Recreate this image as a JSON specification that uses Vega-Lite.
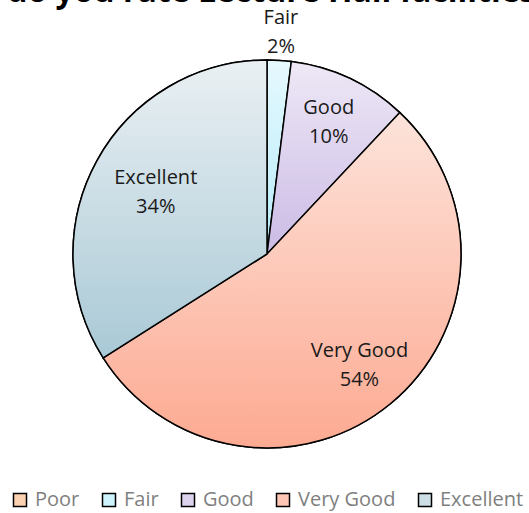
{
  "$schema": "https://vega.github.io/schema/vega-lite/v6.json",
  "width": 534,
  "height": 488,
  "autosize": "none",
  "padding": {"left": 0, "top": 10, "right": 0, "bottom": 15},
  "background": "white",
  "title": {
    "text": "How do you rate Lecture Hall facilities?",
    "font": "Open Sans",
    "fontSize": 32,
    "fontWeight": "bold",
    "color": "black",
    "anchor": "middle",
    "frame": "group",
    "offset": -26,
    "dx": -28,
    "baseline": "alphabetic"
  },
  "data": {
    "values": [
      {"rating": "Poor", "pct": 0, "rank": 1},
      {"rating": "Fair", "pct": 2, "rank": 2},
      {"rating": "Good", "pct": 10, "rank": 3},
      {"rating": "Very Good", "pct": 54, "rank": 4},
      {"rating": "Excellent", "pct": 34, "rank": 5}
    ]
  },
  "transform": [
    {"stack": "pct", "groupby": [], "sort": [{"field": "rank", "order": "ascending"}], "as": ["s0", "s1"]},
    {"calculate": "(datum.s0 + datum.s1) / 2", "as": "mid"},
    {"calculate": "datum.rating + '\\n' + datum.pct + '%'", "as": "label"}
  ],
  "layer": [
    {
      "mark": {"type": "arc", "outerRadius": 194, "stroke": "black", "strokeWidth": 1.5},
      "encoding": {
        "theta": {"field": "s0", "type": "quantitative", "scale": {"domain": [0, 100]}},
        "theta2": {"field": "s1"},
        "color": {
          "field": "rating",
          "type": "nominal",
          "sort": ["Poor", "Fair", "Good", "Very Good", "Excellent"],
          "scale": {
            "domain": ["Poor", "Fair", "Good", "Very Good", "Excellent"],
            "range": ["#fcd3b2", "#cdf3fc", "#ddd2ee", "#fdc6b5", "#cddfe6"]
          },
          "legend": {
            "title": null,
            "orient": "none",
            "legendX": 10,
            "legendY": 480,
            "direction": "horizontal",
            "symbolType": "square",
            "symbolSize": 169,
            "symbolStrokeColor": "black",
            "symbolStrokeWidth": 1.5,
            "symbolOpacity": 1,
            "labelFont": "Open Sans",
            "labelFontSize": 20,
            "labelColor": "#7f7f7f",
            "labelOffset": 5,
            "columnPadding": 19,
            "labelLimit": 200
          }
        }
      }
    },
    {
      "mark": {"type": "arc", "outerRadius": 194, "stroke": "black", "strokeWidth": 1.5},
      "encoding": {
        "theta": {"field": "s0", "type": "quantitative", "scale": {"domain": [0, 100]}},
        "theta2": {"field": "s1"},
        "fill": {
          "condition": [
            {"test": "datum.rating == 'Poor'", "value": {"gradient": "linear", "x1": 0, "y1": 0, "x2": 0, "y2": 1, "stops": [{"offset": 0, "color": "#fde3cf"}, {"offset": 1, "color": "#fbbf90"}]}},
            {"test": "datum.rating == 'Fair'", "value": {"gradient": "linear", "x1": 0, "y1": 0, "x2": 0, "y2": 1, "stops": [{"offset": 0, "color": "#e6f9fe"}, {"offset": 1, "color": "#b5ebfa"}]}},
            {"test": "datum.rating == 'Good'", "value": {"gradient": "linear", "x1": 0, "y1": 0, "x2": 0, "y2": 1, "stops": [{"offset": 0, "color": "#eee8f6"}, {"offset": 1, "color": "#cbbbe5"}]}},
            {"test": "datum.rating == 'Very Good'", "value": {"gradient": "linear", "x1": 0, "y1": 0, "x2": 0, "y2": 1, "stops": [{"offset": 0, "color": "#fde3da"}, {"offset": 1, "color": "#fdaa92"}]}}
          ],
          "value": {"gradient": "linear", "x1": 0, "y1": 0, "x2": 0, "y2": 1, "stops": [{"offset": 0, "color": "#eaf0f3"}, {"offset": 1, "color": "#a9c9d6"}]}
        }
      }
    },
    {
      "transform": [{"filter": "datum.rating == 'Fair'"}],
      "mark": {"type": "text", "radius": 222, "dy": -14.5, "font": "Open Sans", "fontSize": 20, "color": "#1a1a1a", "lineBreak": "\n", "lineHeight": 29, "baseline": "middle"},
      "encoding": {"theta": {"field": "mid", "type": "quantitative"}, "text": {"field": "label"}}
    },
    {
      "transform": [{"filter": "datum.rating == 'Excellent'"}],
      "mark": {"type": "text", "radius": 127, "dy": -14.5, "font": "Open Sans", "fontSize": 20, "color": "#1a1a1a", "lineBreak": "\n", "lineHeight": 29, "baseline": "middle"},
      "encoding": {"theta": {"field": "mid", "type": "quantitative"}, "text": {"field": "label"}}
    },
    {
      "transform": [{"filter": "datum.rating == 'Good' || datum.rating == 'Very Good'"}],
      "mark": {"type": "text", "radius": 145, "dy": -14.5, "font": "Open Sans", "fontSize": 20, "color": "#1a1a1a", "lineBreak": "\n", "lineHeight": 29, "baseline": "middle"},
      "encoding": {"theta": {"field": "mid", "type": "quantitative"}, "text": {"field": "label"}}
    }
  ]
}
